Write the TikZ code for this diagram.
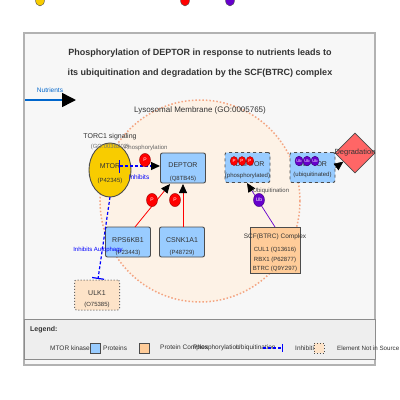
\documentclass[tikz,border=0pt]{standalone}
\usepackage{fontspec}
\setmainfont{Liberation Sans}
\usetikzlibrary{shapes.geometric,arrows.meta}
\definecolor{protblue}{HTML}{99CCFF}
\definecolor{cplx}{HTML}{FFCC99}
\definecolor{notsrc}{HTML}{FDE3C8}
\definecolor{membfill}{HTML}{FDF2E6}
\definecolor{membline}{HTML}{F4A582}
\definecolor{mtorgold}{HTML}{F8CC00}
\definecolor{ubpurple}{HTML}{6600CC}
\definecolor{degred}{HTML}{FF6666}
\definecolor{nutblue}{HTML}{0066CC}
\definecolor{txt}{HTML}{333333}
\definecolor{panel}{HTML}{F7F7F7}
\definecolor{legfill}{HTML}{EEEEEE}
\tikzset{
  fs/.style={font=\fontsize{#1}{#1}\selectfont},
  lbl/.style={inner sep=0pt, text=txt, fs=#1},
  protbox/.style={draw=black!70, fill=protblue, rounded corners=2pt, line width=0.9pt, minimum width=45pt, minimum height=30pt, inner sep=0pt},
  dashbox/.style={protbox, dashed},
  srcbox/.style={draw=black!60, fill=notsrc, rounded corners=2pt, line width=1pt, dotted, minimum width=45pt, minimum height=30pt, inner sep=0pt},
  pmark/.style={ellipse, draw=red!60!black, fill=red, minimum width=#1, minimum height=1.2*#1, inner sep=0pt, text=white, fs=4.5},
  ubmark/.style={ellipse, draw=ubpurple!60!black, fill=ubpurple, minimum width=#1, minimum height=1.2*#1, inner sep=0pt, text=white, fs=4},
  tip/.style={-{Triangle[black,length=9pt,width=8pt]}},
  inhib/.style={blue, dashed, line width=1.2pt, dash pattern=on 3pt off 2pt},
}
\begin{document}
\begin{tikzpicture}[x=1pt,y=-1pt]
\useasboundingbox (0,0) rectangle (400,400);
\clip (0,0) rectangle (400,400);
% stray legend glyphs at the top
\node[ellipse, draw=black!70, fill=mtorgold, minimum width=9pt, minimum height=12pt, inner sep=0pt] (topy) at (40,0) {};
\node[ellipse, draw=black!70, fill=red, minimum width=9pt, minimum height=12pt, inner sep=0pt] (topr) at (185,0) {};
\node[ellipse, draw=black!70, fill=ubpurple, minimum width=9pt, minimum height=12pt, inner sep=0pt] (topp) at (230,0) {};
% panel
\draw[draw=black!30, fill=panel, line width=1.2pt] (24,33) rectangle (375,365);
\node[inner sep=0pt, text=txt, font=\bfseries\fontsize{9}{9}\selectfont] (title1) at (200,53) {Phosphorylation of DEPTOR in response to nutrients leads to};
\node[inner sep=0pt, text=txt, font=\bfseries\fontsize{9}{9}\selectfont] (title2) at (200,73) {its ubiquitination and degradation by the SCF(BTRC) complex};
% nutrients
\coordinate (nutA) at (25,100);
\coordinate (nutB) at (76,100);
\draw[nutblue, line width=1.5pt, -{Triangle[black,length=14pt,width=14pt]}] (nutA) -- (nutB);
\node[inner sep=0pt, text=nutblue, fs=6.5] (nutlbl) at (50,90) {Nutrients};
% membrane
\node[ellipse, draw=membline, fill=membfill, line width=1.5pt, dash pattern=on 1.5pt off 2pt, minimum width=200pt, minimum height=202pt, inner sep=0pt] (memb) at (200,201) {};
\node[lbl=8] (memblbl) at (200,110) {Lysosomal Membrane (GO:0005765)};
% MTOR
\node[ellipse, draw=black!70, fill=mtorgold, line width=0.9pt, minimum width=42pt, minimum height=54pt, inner sep=0pt] (mtor) at (110,170) {};
\node[lbl=7] (torc) at (110,137) {TORC1 signaling};
\node[inner sep=0pt, text=black!55, fs=6] (golbl) at (110,147) {(GO:0038202)};
\node[lbl=7] (mtorT) at (110,166) {MTOR};
\node[lbl=6] (mtorS) at (110,181) {(P42345)};
% DEPTOR
\node[protbox] (deptor) at (183,168) {};
\node[lbl=7] (deptorT) at (183,165) {DEPTOR};
\node[lbl=6] (deptorS) at (183,179) {(Q8TB45)};
% kinases
\node[protbox] (rps) at (128,242) {};
\node[lbl=7] (rpsT) at (128,240) {RPS6KB1};
\node[lbl=6] (rpsS) at (128,253) {(P23443)};
\node[protbox] (csn) at (182,242) {};
\node[lbl=7] (csnT) at (182,240) {CSNK1A1};
\node[lbl=6] (csnS) at (182,253) {(P48729)};
% ULK1
\node[srcbox] (ulk) at (97,295) {};
\node[lbl=7] (ulkT) at (97,293) {ULK1};
\node[lbl=6] (ulkS) at (97,305) {(O75385)};
% DEPTOR phosphorylated / ubiquitinated
\node[dashbox] (dphos) at (247.5,167.5) {};
\node[lbl=7] (dphosT) at (250,164) {DEPTOR};
\node[lbl=6] (dphosS) at (247.5,176) {(phosphorylated)};
\node[dashbox] (dubq) at (312.5,167.5) {};
\node[lbl=7] (dubqT) at (312.5,164) {DEPTOR};
\node[lbl=6] (dubqS) at (312.5,175) {(ubiquitinated)};
\node[pmark=7.5pt] (pp1) at (234,161) {P};
\node[pmark=7.5pt] (pp2) at (242,161) {P};
\node[pmark=7.5pt] (pp3) at (250,161) {P};
\node[ubmark=8pt] (ub1) at (299,161) {Ub};
\node[ubmark=8pt] (ub2) at (307,161) {Ub};
\node[ubmark=8pt] (ub3) at (315,161) {Ub};
% Degradation
\node[diamond, draw=black!70, fill=degred, line width=0.8pt, minimum width=40pt, minimum height=40pt, inner sep=0pt] (degr) at (355,153) {};
\node[lbl=7.5] (degrT) at (355,153) {Degradation};
% SCF complex
\node[draw=black!70, fill=cplx, line width=0.9pt, minimum width=50pt, minimum height=46pt, inner sep=0pt] (scf) at (275,250) {};
\node[lbl=6.5] (scfT) at (275,237) {SCF(BTRC) Complex};
\node[lbl=6] (scf1) at (275,250) {CUL1 (Q13616)};
\node[lbl=6] (scf2) at (275,259.5) {RBX1 (P62877)};
\node[lbl=6] (scf3) at (275,269) {BTRC (Q9Y297)};
% edges
\coordinate (mtorIn) at (119,166);
\coordinate (deptorW) at (160,166);
\draw[inhib, {Bar[blue,width=13pt,line width=1.2pt]}-{Triangle[black,length=9pt,width=8pt]}] (mtorIn) -- (deptorW);
\node[inner sep=0pt, text=black!60, fs=6] (phoslbl) at (146,148) {Phosphorylation};
\node[inner sep=0pt, text=blue, fs=6.5] (inhlbl) at (139,177) {Inhibits};
\node[pmark=11pt, fs=5] (p1) at (145,160) {P};
\coordinate (rpsTop) at (135,227);
\coordinate (deptorB1) at (170,184);
\draw[red, line width=0.8pt, tip] (rpsTop) -- (deptorB1);
\coordinate (csnTop) at (183,227);
\coordinate (deptorB2) at (183,184);
\draw[red, line width=0.8pt, tip] (csnTop) -- (deptorB2);
\node[pmark=11pt, fs=5] (p2) at (152,200) {P};
\node[pmark=11pt, fs=5] (p3) at (175,200) {P};
\coordinate (mtorBot) at (110,197);
\coordinate (ulkTop) at (98,279);
\draw[inhib, -{Bar[blue,width=12pt,line width=1.2pt]}] (mtorBot) -- (ulkTop);
\node[inner sep=0pt, text=blue, fs=6] (autolbl) at (98,250) {Inhibits Autophagy};
\coordinate (scfTop) at (275,227);
\coordinate (dphosB) at (247,183);
\draw[ubpurple, line width=0.7pt, tip] (scfTop) -- (dphosB);
\node[inner sep=0pt, text=black!70, fs=6] (ubqlbl) at (271,191) {Ubiquitination};
\node[ubmark=11pt, fs=5] (ubm) at (259,200) {Ub};
\draw[black, line width=0.5pt, tip] (dubq.east) -- (degr);
% legend
\draw[draw=black!45, fill=legfill, line width=1pt] (24,319) rectangle (375,359);
\node[inner sep=0pt, anchor=west, text=txt, font=\bfseries\fontsize{7}{7}\selectfont] (legT) at (30,330) {Legend:};
\node[inner sep=0pt, anchor=west, lbl=6.5] (l1) at (50,348) {MTOR kinase};
\node[draw=black!70, fill=protblue, minimum size=10pt, inner sep=0pt] (lsq1) at (95,348) {};
\node[inner sep=0pt, anchor=west, lbl=6.5] (l2) at (103,348) {Proteins};
\node[draw=black!70, fill=cplx, minimum size=10pt, inner sep=0pt] (lsq2) at (144.5,348) {};
\node[inner sep=0pt, anchor=west, lbl=6.5] (l3) at (160,348) {Protein Complex};
\node[inner sep=0pt, anchor=west, lbl=6.5] (l4) at (193,348) {Phosphorylation};
\node[inner sep=0pt, anchor=west, lbl=6.5] (l5) at (236,348) {Ubiquitination};
\coordinate (la) at (263,348);
\coordinate (lb) at (283,348);
\draw[inhib, -{Bar[blue,width=8pt,line width=1.2pt]}] (la) -- (lb);
\node[inner sep=0pt, anchor=west, lbl=6.5] (l6) at (295,348) {Inhibition};
\node[draw=black!70, dotted, line width=0.9pt, fill=notsrc, minimum size=10pt, inner sep=0pt] (lsq3) at (319,348) {};
\node[inner sep=0pt, anchor=west, lbl=6.2] (l7) at (337,348) {Element Not in Source};
\end{tikzpicture}
\end{document}
